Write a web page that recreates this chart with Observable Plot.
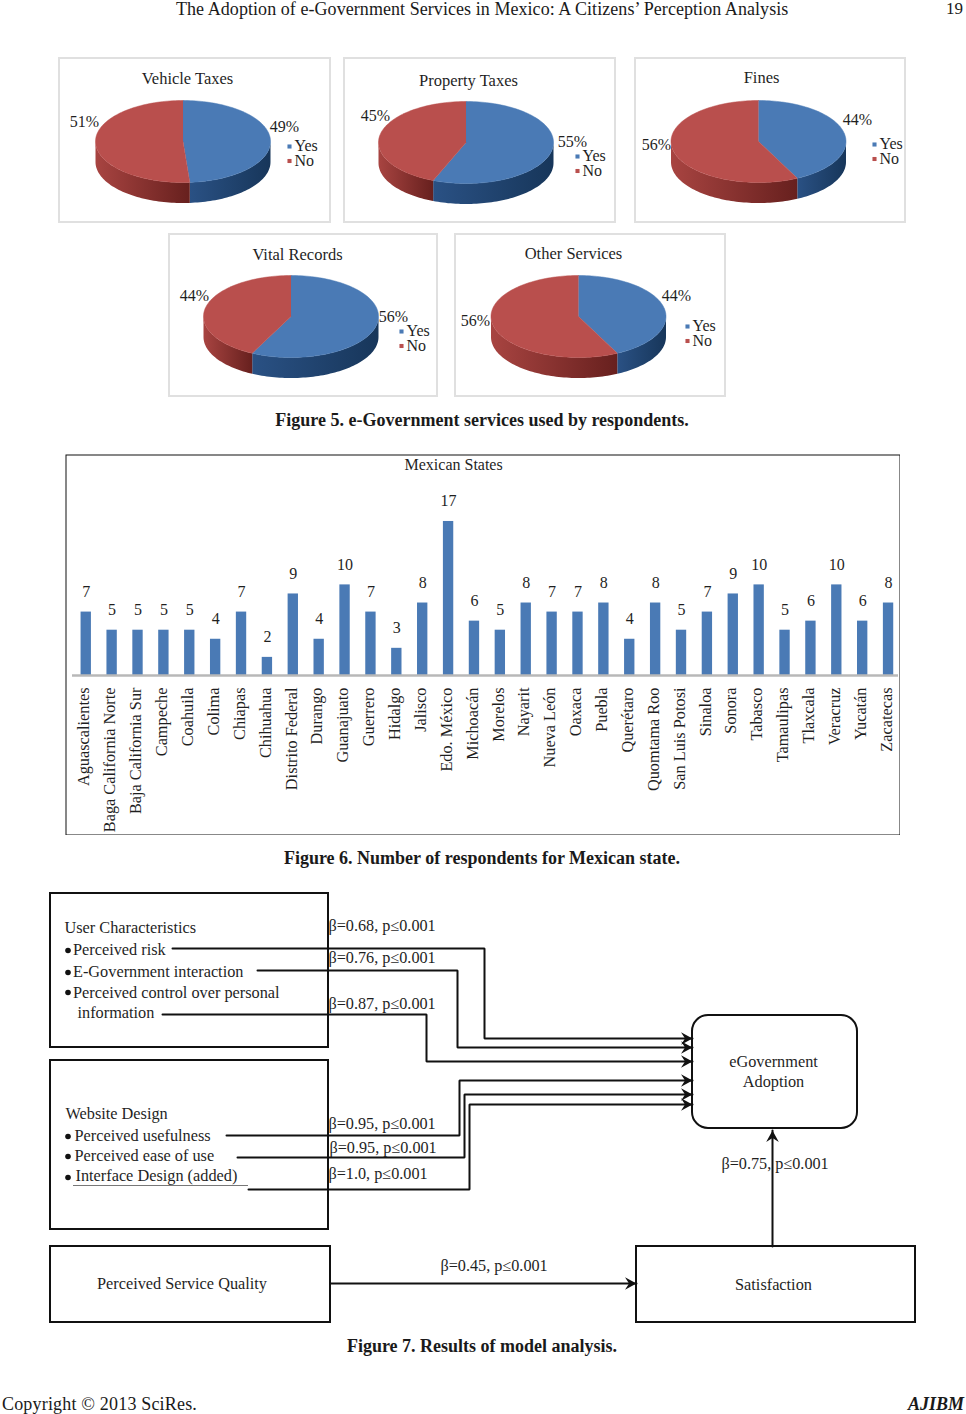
<!DOCTYPE html>
<html><head><meta charset="utf-8">
<script src="https://cdn.jsdelivr.net/npm/d3@7"></script>
<script src="https://cdn.jsdelivr.net/npm/@observablehq/plot@0.6"></script>
<style>
html,body{margin:0;padding:0;background:#fff}
#page{position:relative;width:966px;height:1414px;overflow:hidden;font-family:"Liberation Serif",serif;color:#1a1a1a}
#page>svg,#page>div.t{position:absolute}
.t{white-space:nowrap}
.cap{left:0;width:964px;text-align:center;font-weight:bold;font-size:18px;line-height:20px}
</style></head><body><div id="page"></div>
<script>
// ---------- Figure 5 values ----------
const serviceNames = ["Vehicle Taxes","Property Taxes","Fines","Vital Records","Other Services"];
const yesShares    = [49,55,44,56,44];
const noShares     = [51,45,56,44,56];
// ---------- Figure 6 values ----------
const states = ["Aguascalientes","Baga California Norte","Baja California Sur","Campeche","Coahuila","Colima","Chiapas","Chihuahua","Distrito Federal","Durango","Guanajuato","Guerrero","Hidalgo","Jalisco","Edo. México","Michoacán","Morelos","Nayarit","Nueva León","Oaxaca","Puebla","Querétaro","Quomtama Roo","San Luis Potosi","Sinaloa","Sonora","Tabasco","Tamaulipas","Tlaxcala","Veracruz","Yucatán","Zacatecas"];
const respondents = [7,5,5,5,5,4,7,2,9,4,10,7,3,8,17,6,5,8,7,7,8,4,8,5,7,9,10,5,6,10,6,8];
// ---------- Figure 7 texts ----------
const betaLabels = ["β=0.68, p≤0.001","β=0.76, p≤0.001","β=0.87, p≤0.001","β=0.95, p≤0.001","β=0.95, p≤0.001","β=1.0, p≤0.001","β=0.45, p≤0.001","β=0.75, p≤0.001"];

// ---------- layout ----------
const SERIF = '"Liberation Serif",serif';
const INK = "#1f1f1f";
const panels = [
 {frame:[59,58,330,222], c:[182.5,141], title:[187,79], yes:[284,127], no:[84,122], leg:[289,146]},
 {frame:[344,58,615,222], c:[465.5,142], title:[468,81], yes:[572,142], no:[375,116], leg:[577,156]},
 {frame:[635,58,905,222], c:[758,141], title:[761,78], yes:[857,120], no:[656,145], leg:[874,144]},
 {frame:[169,234,437,396], c:[290.5,316], title:[297,255], yes:[393,317], no:[194,296], leg:[401,331]},
 {frame:[455,234,725,396], c:[578,316], title:[573,254], yes:[676,296], no:[475,321], leg:[687,326]}
];
const RX = 87.5, RY = 41, DEPTH = 20.5;
const pieGen = d3.pie().sort(null);
// the drawing's tilt shifts slice edges a little from the true angle
const tilt = a => a + 0.12*Math.sin(2*a);
const topRows = {Yes:[],No:[]}, wallRows = {Yes:[],No:[]};
panels.forEach((p,i)=>{
  const arcs = pieGen([yesShares[i],noShares[i]]);
  ["Yes","No"].forEach((part,k)=>{
    const a0=tilt(arcs[k].startAngle),a1=tilt(arcs[k].endAngle),[cx,cy]=p.c;
    const at=(a,d=0)=>({panel:i,x:cx+RX*Math.sin(a),y:cy-RY*Math.cos(a)+d});
    const tr=topRows[part];
    tr.push({panel:i,x:cx,y:cy});
    const n=Math.ceil((a1-a0)/0.03);
    for(let j=0;j<=n;j++) tr.push(at(a0+(a1-a0)*j/n));
    const w0=Math.max(a0,Math.PI/2),w1=Math.min(a1,3*Math.PI/2);
    if(w1>w0){
      const m=Math.ceil((w1-w0)/0.03),wr=wallRows[part];
      for(let j=0;j<=m;j++) wr.push(at(w0+(w1-w0)*j/m));
      for(let j=m;j>=0;j--) wr.push(at(w0+(w1-w0)*j/m,DEPTH));
    }
  });
});
function gradient(id,c0,c1){
  return `<linearGradient id="${id}" x1="0" x2="1" y1="0" y2="0"><stop offset="0" stop-color="${c0}"/><stop offset="1" stop-color="${c1}"/></linearGradient>`;
}
function defsMark(){
  const g=document.createElementNS("http://www.w3.org/2000/svg","g");
  g.innerHTML=`<defs>${gradient("wallYes","#2a5184","#17365a")}${gradient("wallNo","#a84441","#67201e")}</defs>`;
  return g;
}
const legendRows=panels.flatMap(p=>[{x:p.leg[0],y:p.leg[1],k:"Yes",c:"#4a7ab5"},{x:p.leg[0],y:p.leg[1]+14.5,k:"No",c:"#b94f4d"}]);
const fig5 = Plot.plot({
  width:966,height:400,margin:0,
  x:{domain:[0,966],range:[0,966],axis:null},y:{domain:[0,400],range:[0,400],axis:null},
  style:{fontFamily:SERIF,background:"transparent",color:INK},
  marks:[
    defsMark,
    Plot.rect(panels,{x1:d=>d.frame[0],y1:d=>d.frame[1],x2:d=>d.frame[2],y2:d=>d.frame[3],fill:"#fff",stroke:"#e0e0e0",strokeWidth:2}),
    Plot.line(wallRows.Yes,{x:"x",y:"y",z:"panel",fill:"url(#wallYes)",stroke:"none",curve:"linear"}),
    Plot.line(wallRows.No,{x:"x",y:"y",z:"panel",fill:"url(#wallNo)",stroke:"none",curve:"linear"}),
    Plot.line(topRows.Yes,{x:"x",y:"y",z:"panel",fill:"#4a7ab5",stroke:"#4a7ab5",strokeWidth:.5}),
    Plot.line(topRows.No,{x:"x",y:"y",z:"panel",fill:"#b94f4d",stroke:"#b94f4d",strokeWidth:.5}),
    Plot.text(panels,{x:d=>d.title[0],y:d=>d.title[1],text:(d,i)=>serviceNames[i],dy:-1,fontSize:16.5,fill:INK}),
    Plot.text(panels,{x:d=>d.yes[0],y:d=>d.yes[1],text:(d,i)=>yesShares[i]+"%",dy:-1,fontSize:16,fill:INK}),
    Plot.text(panels,{x:d=>d.no[0],y:d=>d.no[1],text:(d,i)=>noShares[i]+"%",dy:-1,fontSize:16,fill:INK}),
    Plot.dot(legendRows,{x:"x",y:"y",symbol:"square",r:2.3,fill:"c",stroke:"none"}),
    Plot.text(legendRows,{x:"x",y:"y",text:"k",dx:5,dy:-.5,textAnchor:"start",fontSize:16,fill:INK})
  ]
});
fig5.style.cssText+=";left:0;top:0";

// ---------- Figure 6 ----------
const stateRows=states.map((s,i)=>({state:s,n:respondents[i]}));
const fig6 = Plot.plot({
  width:835,height:381,marginTop:0,marginRight:0,marginLeft:0,marginBottom:160,
  x:{domain:states,range:[7.8,836],paddingInner:.6,paddingOuter:.3,round:false,axis:null},
  y:{domain:[0,221/9.06],axis:null},
  style:{fontFamily:SERIF,background:"transparent",color:INK},
  marks:[
    Plot.frame({stroke:"#111",strokeWidth:1,insetBottom:-159.5,insetTop:.5,insetLeft:.5,insetRight:.5}),
    Plot.barY(stateRows,{x:"state",y:"n",fill:"#4a7ab5"}),
    Plot.ruleY([0],{stroke:"#b8b8b8",strokeWidth:2.5,insetLeft:7,insetRight:2}),
    Plot.text(stateRows,{x:"state",y:"n",text:"n",dy:-20.5,fontSize:16,fill:INK}),
    Plot.axisX({domain:states,tickSize:0,tickPadding:12,tickRotate:-90,label:null,fontSize:16.3,dx:-2,fill:INK}),
    Plot.text(["Mexican States"],{frameAnchor:"top-left",dx:339,dy:10.5,fontSize:16,fill:INK,lineAnchor:"middle"})
  ]
});
fig6.style.cssText+=";left:65px;top:454px";

// ---------- Figure 7 ----------
const boxes=[[50,893,328,1047],[50,1060,328,1229],[50,1246,330,1322],[636,1246,915,1322]];
const routes=[
 [[172,948],[484,948],[484,1038],[692,1038]],
 [[257,970],[457,970],[457,1047],[692,1047]],
 [[162,1014],[426,1014],[426,1061],[692,1061]],
 [[226,1135],[459,1135],[459,1080],[692,1080]],
 [[237,1157],[464,1157],[464,1094],[692,1094]],
 [[248,1189],[469,1189],[469,1104],[692,1104]],
 [[330,1283],[636,1283]],
 [[772,1246],[772,1130]]
];
const routeRows=routes.flatMap((r,id)=>r.map(([x,y])=>({id,x,y})));
const heads=routes.map(r=>({x:r[r.length-1][0],y:r[r.length-1][1],rotate:r[r.length-1][1]<r[r.length-2][1]?-90:0}));
const headSymbol={draw(c,size){const s=Math.sqrt(size/Math.PI);c.moveTo(0,0);c.lineTo(-10*s,-5.5*s);c.lineTo(-6.5*s,0);c.lineTo(-10*s,5.5*s);c.closePath();}};
const betaPos=[[328,926],[328,958],[328,1004],[328,1124],[329,1148],[328,1174],[440,1266],[721,1164]];
const betaRows=betaLabels.map((t,i)=>({t,x:betaPos[i][0],y:betaPos[i][1]}));
const leftTexts=[
 {t:"User Characteristics",x:64,y:928},
 {t:"Perceived risk",x:72.5,y:950},
 {t:"E-Government interaction",x:72.5,y:972},
 {t:"Perceived control over personal",x:72.5,y:993},
 {t:"information",x:77,y:1013},
 {t:"Website Design",x:65,y:1114},
 {t:"Perceived usefulness",x:74,y:1136},
 {t:"Perceived ease of use",x:74,y:1156},
 {t:"Interface Design (added)",x:75,y:1176},
 {t:"Perceived Service Quality",x:96.5,y:1284}
];
const midTexts=[{t:"eGovernment",x:773,y:1062},{t:"Adoption",x:773,y:1082},{t:"Satisfaction",x:773,y:1285}];
const bullets=[[67.5,950],[67.5,972],[67.5,992],[67.5,1136],[67.5,1156],[67.5,1177]].map(([x,y])=>({x,y}));
const fig7 = Plot.plot({
  width:966,height:450,margin:0,
  x:{domain:[0,966],range:[0,966],axis:null},y:{domain:[885,1335],range:[0,450],axis:null},
  style:{fontFamily:SERIF,background:"transparent",color:INK},
  marks:[
    Plot.rect(boxes,{x1:d=>d[0],y1:d=>d[1],x2:d=>d[2],y2:d=>d[3],fill:"none",stroke:"#111",strokeWidth:2}),
    Plot.rect([[692,1015,857,1128]],{x1:d=>d[0],y1:d=>d[1],x2:d=>d[2],y2:d=>d[3],fill:"none",stroke:"#111",strokeWidth:2,rx:16}),
    Plot.line(routeRows,{x:"x",y:"y",z:"id",stroke:"#111",strokeWidth:2,strokeLinejoin:"miter"}),
    Plot.dot(heads,{x:"x",y:"y",rotate:"rotate",symbol:headSymbol,r:1.15,fill:"#111",stroke:"none"}),
    Plot.ruleY([1185],{x1:73,x2:248,stroke:"#777",strokeWidth:1}),
    Plot.dot(bullets,{x:"x",y:"y",r:2.8,fill:"#111",stroke:"none"}),
    Plot.text(leftTexts,{x:"x",y:"y",text:"t",dy:-.8,textAnchor:"start",fontSize:16.3,fill:INK}),
    Plot.text(midTexts,{x:"x",y:"y",text:"t",dy:-.8,fontSize:16.3,fill:INK}),
    Plot.text(betaRows,{x:"x",y:"y",text:"t",dy:-.8,textAnchor:"start",fontSize:16.2,fill:INK})
  ]
});
fig7.style.cssText+=";left:0;top:885px";

// ---------- page texts ----------
const page=document.getElementById("page");
function addText(txt,css,cls){const d=document.createElement("div");d.className="t "+(cls||"");d.textContent=txt;d.style.cssText=css;page.appendChild(d);}
page.append(fig5,fig6,fig7);
addText("The Adoption of e-Government Services in Mexico: A Citizens’ Perception Analysis","left:176px;top:0px;font-size:18px;line-height:18px;letter-spacing:.06px");
addText("19","left:946px;top:0px;font-size:17px;line-height:18px");
addText("Figure 5. e-Government services used by respondents.","top:410px","cap");
addText("Figure 6. Number of respondents for Mexican state.","top:848px","cap");
addText("Figure 7. Results of model analysis.","top:1336px","cap");
addText("Copyright © 2013 SciRes.","left:2px;top:1395px;font-size:18px;line-height:18px;letter-spacing:.18px");
addText("AJIBM","left:908px;top:1395px;font-size:18px;line-height:18px;font-weight:bold;font-style:italic");
</script></body></html>
